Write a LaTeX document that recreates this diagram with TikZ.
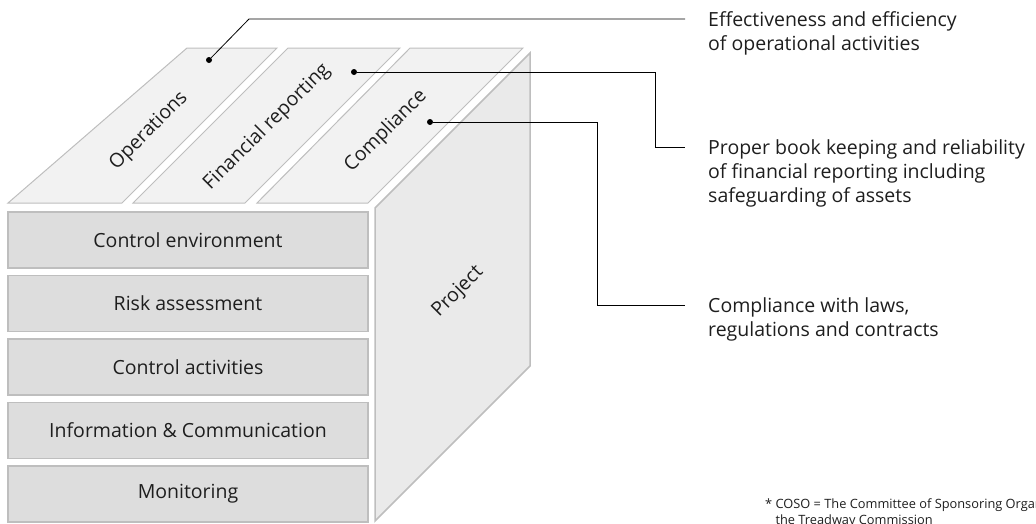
\documentclass[tikz,border=0pt]{standalone}
\usepackage{fontspec}
\setmainfont{Open Sans}
\usetikzlibrary{positioning,calc}
\definecolor{topgray}{RGB}{242,242,242}
\definecolor{sidegray}{RGB}{234,234,234}
\definecolor{boxgray}{RGB}{221,221,221}
\definecolor{edgegray}{RGB}{190,190,190}
\definecolor{inkgray}{RGB}{30,30,30}

\begin{document}
\begin{tikzpicture}[
    x=1pt, y=-1pt,
    font=\fontsize{19.5}{24}\selectfont,
    comp/.style={rectangle, draw=edgegray, line width=1.5pt, fill=boxgray,
                 minimum width=360pt, minimum height=56pt, inner sep=0pt,
                 outer sep=0pt, text=inkgray},
    slab/.style={draw=edgegray, line width=1pt, fill=topgray},
    side/.style={draw=edgegray, line width=1.5pt, fill=sidegray},
    tilted/.style={rotate=45, text=inkgray},
    dot/.style={circle, fill=black, inner sep=0pt, minimum size=6pt},
    lead/.style={draw=black, line width=0.8pt},
    note/.style={anchor=north west, align=left, inner sep=0pt, text=inkgray}
]
\path[use as bounding box] (0,0) rectangle (1036,523);
\clip (0,0) rectangle (1036,523);

% Top face: objectives
\draw[slab] (8,203) -- (122,203) -- (277,48) -- (187,48) -- cycle;
\draw[slab] (133,203) -- (245,203) -- (400,48) -- (288,48) -- cycle;
\draw[slab] (257,203) -- (368,203) -- (523,48) -- (410,48) -- cycle;
\node[tilted] (ops) at (149,131) {Operations};
\node[tilted] (fin) at (267,127) {Financial reporting};
\node[tilted] (cmp) at (386,131) {Compliance};

% Side face
\draw[side] (375,208) -- (530,53) -- (530,366) -- (375,521) -- cycle;
\node[tilted] (proj) at (458,292) {Project};

% Front face: components
\node[comp] (env) at (188,240) {Control environment};
\node[comp, below=7.5pt of env] (risk) {Risk assessment};
\node[comp, below=7.5pt of risk] (act) {Control activities};
\node[comp, below=7.5pt of act] (info) {Information \& Communication};
\node[comp, below=7.5pt of info] (mon) {Monitoring};

% Callouts
\node[dot] (opsdot) at (209,60) {};
\node[dot] (findot) at (354,72) {};
\node[dot] (cmpdot) at (430,122) {};
\coordinate (opsbend) at (249,19);
\coordinate (opsend) at (685,19);
\coordinate (finend) at (685,147);
\coordinate (cmpend) at (685,305);

\node[note] (effnote) at (708,11) {Effectiveness and efficiency\\of operational activities};
\node[note] (booknote) at (708,139) {Proper book keeping and reliability\\of financial reporting including\\safeguarding of assets};
\node[note] (lawnote) at (708,297) {Compliance with laws,\\regulations and contracts};

\draw[lead] (opsdot) -- (opsbend) -- (opsend);
\draw[lead] (findot) -| ([xshift=-30pt]finend) -- (finend);
\draw[lead] (cmpdot) -| ([xshift=-88pt]cmpend) -- (cmpend);

% Footnote
\node[note, font=\fontsize{12.8}{16}\selectfont] (coso) at (765,498)
  {* COSO = The Committee of Sponsoring Organizations of\\\hphantom{* }the Treadway Commission};
\end{tikzpicture}
\end{document}
